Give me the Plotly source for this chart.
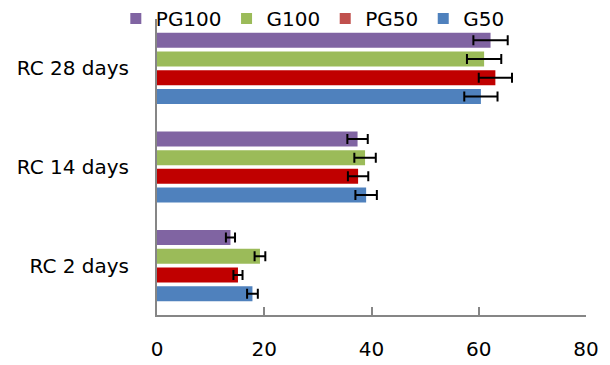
import plotly.graph_objects as go

categories = ["RC 2 days", "RC 14 days", "RC 28 days"]
series_names = ["G50", "PG50", "G100", "PG100"]
g50 = [17.8, 39.0, 60.4]
g50_err = [1.0, 2.0, 3.1]
pg50 = [15.1, 37.5, 63.1]
pg50_err = [0.85, 1.9, 3.1]
g100 = [19.2, 38.8, 61.0]
g100_err = [1.0, 2.0, 3.2]
pg100 = [13.7, 37.4, 62.2]
pg100_err = [0.85, 1.9, 3.2]
x_ticks = [0, 20, 40, 60, 80]

bar_colors = {"G50": "#4F81BD", "PG50": "#C00000", "G100": "#9BBB59", "PG100": "#8064A2"}
legend_colors = {"G50": "#4F81BD", "PG50": "#C0504D", "G100": "#9BBB59", "PG100": "#8064A2"}
values = {"G50": (g50, g50_err), "PG50": (pg50, pg50_err), "G100": (g100, g100_err), "PG100": (pg100, pg100_err)}

FONT = "DejaVu Sans"
fig = go.Figure()
for name in series_names:
    v, e = values[name]
    fig.add_trace(go.Bar(
        y=categories, x=v, orientation="h", name=name,
        marker=dict(color=bar_colors[name], line=dict(width=0)),
        error_x=dict(type="data", array=e, visible=True, color="black", thickness=2, width=5),
        showlegend=False,
    ))

for name in ["PG100", "G100", "PG50", "G50"]:
    fig.add_trace(go.Scatter(
        x=[None], y=[None], mode="markers", name=name,
        marker=dict(symbol="square", size=11, color=legend_colors[name]),
        showlegend=True,
    ))

fig.update_layout(
    width=610, height=365,
    margin=dict(l=157, r=24, t=19, b=50, autoexpand=False),
    paper_bgcolor="white", plot_bgcolor="white",
    barmode="group", bargap=0.24, bargroupgap=0.2,
    font=dict(family=FONT, size=18, color="black"),
    legend=dict(orientation="h", x=-0.096, xanchor="left", y=1.002, yanchor="middle",
                font=dict(family=FONT, size=20), traceorder="normal",
                itemwidth=30, bgcolor="rgba(0,0,0,0)"),
    xaxis=dict(range=[0, 80], tickvals=x_ticks, showgrid=False, zeroline=False,
               showline=True, linecolor="#868686", linewidth=2,
               ticks="inside", ticklen=8, tickcolor="#868686", tickwidth=1.5,
               ticklabelstandoff=15, tickfont=dict(size=20), automargin=False),
    yaxis=dict(type="category", categoryorder="array", categoryarray=categories,
               range=[-0.5, 2.5], showgrid=False, zeroline=False,
               showline=True, linecolor="#868686", linewidth=2,
               ticks="", ticklabelstandoff=22, tickfont=dict(size=20), automargin=False),
)

fig.write_html("out.html", config={"displayModeBar": False},
               post_script="document.body.style.margin='0';")
